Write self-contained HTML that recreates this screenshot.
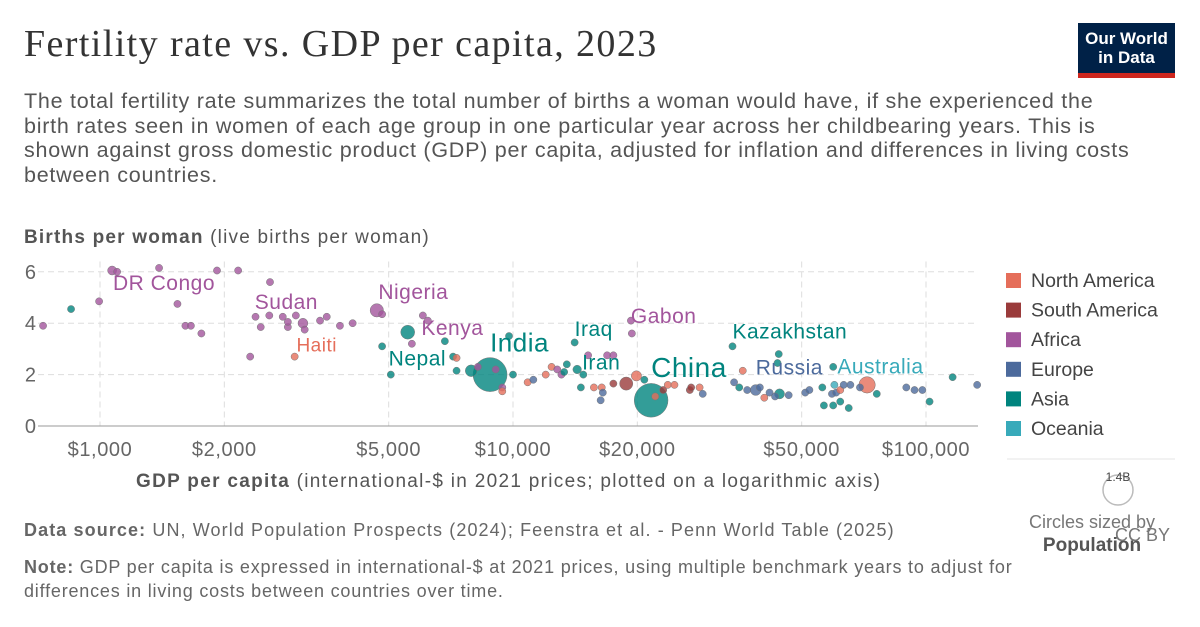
<!DOCTYPE html>
<html><head><meta charset="utf-8">
<style>
body{margin:0;width:1200px;height:627px;background:#fff;overflow:hidden;font-family:"Liberation Sans",sans-serif;}
.t{position:absolute;white-space:nowrap}
</style></head><body>
<div class="t" style="left:24px;top:22px;font-family:'Liberation Serif',serif;font-size:38px;letter-spacing:1.4px;color:#333">Fertility rate vs. GDP per capita, 2023</div>
<div style="position:absolute;left:1078px;top:23px;width:97px;height:55px;background:#002147">
<div style="color:#fff;font-size:17px;font-weight:bold;text-align:center;line-height:19px;margin-top:6px">Our World<br>in Data</div>
<div style="position:absolute;left:0;bottom:0;width:97px;height:5px;background:#ce261e"></div></div>
<div class="t" style="left:24px;top:89px;font-size:21.5px;letter-spacing:0.75px;line-height:24.5px;color:#555;white-space:normal;width:1110px">The total fertility rate summarizes the total number of births a woman would have, if she experienced the birth rates seen in women of each age group in one particular year across her childbearing years. This is shown against gross domestic product (GDP) per capita, adjusted for inflation and differences in living costs between countries.</div>
<div class="t" style="left:24px;top:227px;font-size:19px;letter-spacing:1.2px;color:#555"><b>Births per woman</b> (live births per woman)</div>
<div class="t" style="left:136px;top:471px;font-size:19px;letter-spacing:1.3px;color:#555"><b>GDP per capita</b> (international-$ in 2021 prices; plotted on a logarithmic axis)</div>
<div class="t" style="left:24px;top:520px;font-size:18px;letter-spacing:1.1px;color:#666"><b>Data source:</b> UN, World Population Prospects (2024); Feenstra et al. - Penn World Table (2025)</div>
<div class="t" style="left:24px;top:555px;font-size:18px;letter-spacing:0.8px;line-height:24px;color:#666;white-space:normal;width:1050px"><b>Note:</b> GDP per capita is expressed in international-$ at 2021 prices, using multiple benchmark years to adjust for differences in living costs between countries over time.</div>
<svg id="chart" width="1200" height="627" style="position:absolute;left:0;top:0"></svg>
<script>
const xTicks=[1000,2000,5000,10000,20000,50000,100000];
const xTickLabels=["$1,000","$2,000","$5,000","$10,000","$20,000","$50,000","$100,000"];
const yTicks=[0,2,4,6];
const regions=["North America","South America","Africa","Europe","Asia","Oceania"];
const regionColors={"North America":"#E56E5A","South America":"#9A3B3B","Africa":"#A2559C","Europe":"#4C6A9C","Asia":"#00847E","Oceania":"#38AABA"};
const gdp=[728,851,995,1070,1100,1390,1540,1610,1660,1760,1920,2160,2310,2380,2450,2570,2580,2770,2850,2850,2980,2960,3100,3130,3410,3540,3810,4090,4680,4820,4820,5060,5560,5690,6050,6220,6840,7160,7300,7300,7920,8220,8800,9080,9420,9420,10000,9780,10850,11200,12000,12400,12800,13100,13300,13500,14100,15200,14300,14800,14600,15700,16400,16500,16300,16900,17500,17500,18800,19400,19300,19900,20800,21600,22100,23100,23700,24600,26800,27000,28300,28800,34000,34300,35300,36000,36900,38700,39600,41800,40600,44000,43700,44200,43100,46500,51000,52200,56100,56600,59600,59200,60600,59600,62000,62000,63200,65000,65600,69200,72000,76000,89600,93800,98000,102000,116000,133000,60000];
const fert=[3.9,4.55,4.85,6.05,6.0,6.15,4.75,3.9,3.9,3.6,6.05,6.05,2.7,4.25,3.85,4.3,5.6,4.25,3.85,4.05,4.3,2.7,4.0,3.75,4.1,4.25,3.9,4.0,4.5,4.35,3.1,2.0,3.65,3.2,4.3,4.1,3.3,2.7,2.65,2.15,2.15,2.3,2.0,2.2,1.5,1.35,2.0,3.5,1.7,1.8,2.0,2.3,2.2,2.0,2.1,2.4,3.25,2.75,2.2,2.0,1.5,1.5,1.5,1.3,1.0,2.75,2.75,1.65,1.65,3.6,4.1,1.95,1.8,1.0,1.15,1.4,1.6,1.6,1.4,1.5,1.5,1.25,3.1,1.7,1.5,2.15,1.4,1.4,1.5,1.3,1.1,2.8,2.45,1.25,1.15,1.2,1.3,1.4,1.5,0.8,0.8,1.25,1.3,2.3,0.95,1.4,1.6,0.7,1.6,1.5,1.6,1.25,1.5,1.4,1.4,0.95,1.9,1.6,1.6];
const regionIdx=[2,4,2,2,2,2,2,2,2,2,2,2,2,2,2,2,2,2,2,2,2,0,2,2,2,2,2,2,2,2,4,4,4,2,2,2,4,4,0,4,4,2,4,2,2,0,4,4,0,3,0,0,2,2,4,4,4,2,4,4,4,0,0,3,3,2,2,1,1,2,2,0,4,4,0,1,0,0,1,1,0,3,4,3,4,0,3,3,3,3,0,4,4,4,3,3,3,3,4,4,4,3,3,4,4,0,3,4,3,3,0,4,3,3,3,4,4,3,5];
const pop=[20,20,20,100,20,20,20,20,20,20,20,20,20,20,20,20,20,20,30,20,20,20,120,30,20,20,20,20,220,20,20,30,240,20,20,20,20,20,20,20,170,20,1430,20,20,20,20,20,20,20,20,20,20,20,20,20,45,20,90,20,20,20,20,20,20,60,20,20,215,20,20,130,20,1410,20,20,20,20,20,20,20,20,20,20,20,20,20,145,20,20,20,20,20,124,20,20,20,20,20,20,20,20,20,20,20,20,20,20,20,20,335,20,20,20,20,20,20,20,27];
const labelNames=["DR Congo","Sudan","Nigeria","Kenya","Haiti","Nepal","India","Iraq","Gabon","Iran","China","Kazakhstan","Russia","Australia"];
const labelGdp=[1075,2370,4720,6000,2990,5000,8800,14100,19300,14700,21600,34000,38700,61000];
const labelFert=[5.3,4.55,4.95,3.55,2.9,2.35,2.9,3.5,4.0,2.2,1.9,3.4,2.0,2.05];
const labelRegion=[2,2,2,2,0,4,4,4,2,4,4,4,3,5];
const labelSize=[21,21,21,21,19,21,26,21,21,21,28,21,21,21];

const svg=document.getElementById('chart');const NS='http://www.w3.org/2000/svg';
const X0=38,X1=978,Y0=426;
const xs=g=>100+413*Math.log10(g/1000);
const ys=f=>Y0-f*25.7;
function mk(t,a){const e=document.createElementNS(NS,t);for(const k in a)e.setAttribute(k,a[k]);svg.appendChild(e);return e;}
yTicks.forEach(v=>{
 if(v>0){const l=mk('line',{x1:X0,x2:X1,y1:ys(v),y2:ys(v),stroke:'#ddd','stroke-dasharray':'6,4'});
 
 }
 const t=mk('text',{x:X0-2,y:ys(v)+7,'text-anchor':'end','font-size':20,fill:'#666','font-family':'Liberation Sans'});t.textContent=v;
 
 
});
xTicks.forEach((v,i)=>{
 const l=mk('line',{x1:xs(v),x2:xs(v),y1:ys(6.4),y2:Y0,stroke:'#ddd','stroke-dasharray':'6,4'});
 
 
 const t=mk('text',{x:xs(v),y:456,'text-anchor':'middle','font-size':20,'letter-spacing':0.6,fill:'#666','font-family':'Liberation Sans'});t.textContent=xTickLabels[i];
 
 
});
const ax=mk('line',{x1:X0,x2:X1,y1:Y0,y2:Y0,stroke:'#999'});


const order=gdp.map((_,i)=>i).sort((a,b)=>pop[b]-pop[a]);
order.forEach(i=>{
 const r=Math.max(3.6,17*Math.sqrt(pop[i]/1430));
 const c=mk('circle',{cx:xs(gdp[i]),cy:ys(fert[i]),r:r,fill:regionColors[regions[regionIdx[i]]],'fill-opacity':0.8,stroke:'#777','stroke-width':0.5});
 
 
});
labelNames.forEach((n,i)=>{
 const t=mk('text',{x:xs(labelGdp[i]),y:ys(labelFert[i]),'font-size':labelSize[i],'letter-spacing':0.5,fill:regionColors[regions[labelRegion[i]]],'font-family':'Liberation Sans'});t.textContent=n;
 
 
});
regions.forEach((r,i)=>{
 const y=273+i*29.6;
 const s=mk('rect',{x:1006,y:y,width:15,height:15,fill:regionColors[r]});
 
 
 const t=mk('text',{x:1031,y:y+14,'font-size':19.5,fill:'#444','font-family':'Liberation Sans'});t.textContent=r;
 
 
});
const sep=mk('line',{x1:1007,x2:1175,y1:459,y2:459,stroke:'#e5e5e5'});


const sc=mk('circle',{cx:1118,cy:490,r:15,fill:'none',stroke:'#bbb','stroke-width':1.5});


const sl=mk('text',{x:1118,y:481,'text-anchor':'middle','font-size':12,fill:'#444','font-family':'Liberation Sans'});sl.textContent='1.4B';


const s1=mk('text',{x:1092,y:528,'text-anchor':'middle','font-size':18,fill:'#777','font-family':'Liberation Sans'});s1.textContent='Circles sized by';


const s2=mk('text',{x:1092,y:551,'text-anchor':'middle','font-size':19,'font-weight':'bold',fill:'#555','font-family':'Liberation Sans'});s2.textContent='Population';


const cc=mk('text',{x:1170,y:541,'text-anchor':'end','font-size':18,fill:'#777','font-family':'Liberation Sans'});cc.textContent='CC BY';


</script>
</body></html>
